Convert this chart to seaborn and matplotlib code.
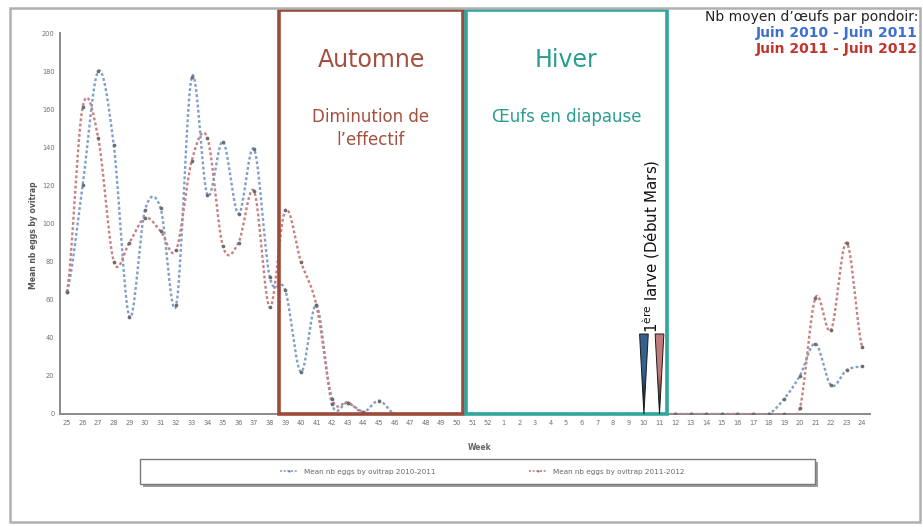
import numpy as np
import pandas as pd
import matplotlib
matplotlib.use("Agg")
import matplotlib.pyplot as plt
import seaborn as sns
from matplotlib.patches import Rectangle, Polygon
from matplotlib.lines import Line2D
from matplotlib.colors import LinearSegmentedColormap

# Weeks from June to June (week 25 of year N to week 24 of year N+1)
weeks = list(range(25, 53)) + list(range(1, 25))

# Mean number of eggs per ovitrap
eggs_2010_2011 = [64, 120, 180, 141, 51, 107, 108, 57, 177, 115, 143, 105, 139, 72,
                  65, 22, 57, 5, 6, 1, 7, 0, 0, 0, 0, 0, 0, 0,
                  0, 0, 0, 0, 0, 0, 0, 0, 0, 0, 0, 0, 0, 0, 0, 0, 0,
                  0, 8, 20, 37, 15, 23, 25]
eggs_2011_2012 = [64, 161, 145, 80, 90, 103, 96, 86, 133, 145, 88, 90, 117, 56,
                  107, 80, 57, 8, 6, 1, 0, 0, 0, 0, 0, 0, 0, 0,
                  0, 0, 0, 0, 0, 0, 0, 0, 0, 0, 0, 0, 0, 0, 0, 0, 0,
                  0, 0, 3, 61, 44, 90, 35]

series_labels = ["Mean nb eggs by ovitrap 2010-2011", "Mean nb eggs by ovitrap 2011-2012"]
series_colors = ["#7f9fc8", "#c98080"]
y_ticks = list(range(0, 201, 20))

# Seasons (in week-index units) and first larva observations
autumn_span = (13.6, 25.4)
winter_span = (25.6, 38.45)
first_larva_weeks = [10, 11]
larva_colors = ["#35608f", "#c47a7a"]
larva_height = 42


def smooth_curve(values, n=16):
    """Catmull-Rom path through the points, like a smoothed spreadsheet line."""
    y = np.asarray(values, float)
    p = np.concatenate([[y[0]], y, [y[-1]]])
    xs, ys = [], []
    t = np.linspace(0, 1, n, endpoint=False)
    for i in range(len(y) - 1):
        p0, p1, p2, p3 = p[i:i + 4]
        h = 0.5 * (2 * p1 + (-p0 + p2) * t + (2 * p0 - 5 * p1 + 4 * p2 - p3) * t ** 2
                   + (-p0 + 3 * p1 - 3 * p2 + p3) * t ** 3)
        xs.append(i + t)
        ys.append(h)
    xs.append([len(y) - 1])
    ys.append([y[-1]])
    return np.concatenate(xs), np.concatenate(ys)


sns.set_style("white")
plt.rcParams["font.family"] = ["DejaVu Sans"]

fig = plt.figure(figsize=(9.23, 5.27), dpi=100)
ax = fig.add_axes([60 / 923, 1 - 414 / 527, 810 / 923, 381 / 527])

idx = np.arange(len(weeks))
for vals, lab, col in zip([eggs_2010_2011, eggs_2011_2012], series_labels, series_colors):
    cx, cy = smooth_curve(vals)
    curve = pd.DataFrame({"x": cx, "y": cy})
    sns.lineplot(data=curve, x="x", y="y", ax=ax, color=col, linewidth=1.7,
                 linestyle=(0, (1.2, 1.0)), estimator=None, sort=False, zorder=3)
    pts = pd.DataFrame({"x": idx, "y": vals})
    sns.scatterplot(data=pts, x="x", y="y", ax=ax, color="#6d6d6d", s=7,
                    linewidth=0, zorder=4)

# Season boxes
ax.add_patch(Rectangle((autumn_span[0], 0), autumn_span[1] - autumn_span[0], 212,
                       fill=False, ec="#9c4a3a", lw=2.6, clip_on=False, zorder=5))
ax.add_patch(Rectangle((winter_span[0], 0), winter_span[1] - winter_span[0], 212,
                       fill=False, ec="#2fa79b", lw=2.6, clip_on=False, zorder=5))

ac = sum(autumn_span) / 2
wc = sum(winter_span) / 2
ax.text(ac, 186, "Automne", ha="center", va="center", fontsize=17, color="#a5503e")
ax.text(ac, 156, "Diminution de", ha="center", va="center", fontsize=12, color="#a5503e")
ax.text(ac, 144, "l\u2019effectif", ha="center", va="center", fontsize=12, color="#a5503e")
ax.text(wc, 186, "Hiver", ha="center", va="center", fontsize=17, color="#2a9d91")
ax.text(wc, 156, "\u0152ufs en diapause", ha="center", va="center", fontsize=12, color="#2a9d91")

# First larva markers (gradient spikes)
hw = 0.28
for wk, col in zip(first_larva_weeks, larva_colors):
    xi = weeks.index(wk)
    tri = Polygon([(xi - hw, larva_height), (xi + hw, larva_height), (xi, 0)],
                  closed=True, facecolor="none", edgecolor="#1a1a1a", lw=0.7, zorder=7)
    ax.add_patch(tri)
    cmap = LinearSegmentedColormap.from_list("spike", ["#000000", col, col])
    grad = np.linspace(0, 1, 64).reshape(-1, 1)
    im = ax.imshow(grad, extent=(xi - hw, xi + hw, 0, larva_height), origin="lower",
                   cmap=cmap, aspect="auto", zorder=6)
    im.set_clip_path(tri)

lx = (weeks.index(first_larva_weeks[0]) + weeks.index(first_larva_weeks[1])) / 2
ax.text(lx, 88, r"1$^{\mathrm{ère}}$ larve (Début Mars)", rotation=90, ha="center",
        va="center", fontsize=10.8, color="#111111")

ax.set_xlim(-0.45, 51.5)
ax.set_ylim(0, 200)
ax.set_xticks(idx)
ax.set_xticklabels([str(w) for w in weeks])
ax.set_yticks(y_ticks)
ax.set_yticklabels([str(v) for v in y_ticks])
ax.tick_params(axis="both", labelsize=4.8, labelcolor="#707070", color="#888888",
               direction="inout", length=4, width=0.8, pad=2)
ax.set_xlabel("")
ax.set_ylabel("")
for side in ["top", "right"]:
    ax.spines[side].set_visible(False)
for side in ["left", "bottom"]:
    ax.spines[side].set_color("#8a8a8a")
    ax.spines[side].set_linewidth(1.4)

fig.text(480 / 923, 1 - 447 / 527, "Week", ha="center", va="center", fontsize=5.5,
         fontweight="bold", color="#666666")
fig.text(33 / 923, 1 - 235 / 527, "Mean nb eggs by ovitrap", rotation=90, ha="center",
         va="center", fontsize=5.5, fontweight="bold", color="#555555")

# Legend box with drop shadow, entries centred inside
fig.add_artist(Rectangle((143 / 923, 1 - 487 / 527), 675 / 923, 25 / 527,
                         fc="#9a9a9a", ec="none", transform=fig.transFigure))
fig.add_artist(Rectangle((140 / 923, 1 - 484 / 527), 675 / 923, 25 / 527,
                         fc="white", ec="#7a7a7a", lw=1.0, transform=fig.transFigure))
handles = [Line2D([], [], color=c, lw=1.2, linestyle=(0, (1.2, 1.0)), marker="o",
                  markersize=1.5, markerfacecolor="#6d6d6d", markeredgewidth=0)
           for c in series_colors]
leg = fig.legend(handles, series_labels, loc="center", ncol=2,
                 bbox_to_anchor=(482 / 923, 1 - 471.5 / 527),
                 fontsize=5.2, frameon=False, handlelength=2.5, columnspacing=13)
for t in leg.get_texts():
    t.set_color("#666666")

# Top-right caption
fig.text(918 / 923, 1 - 17 / 527, "Nb moyen d\u2019\u0153ufs par pondoir:", ha="right",
         va="center", fontsize=10, color="#222222")
fig.text(918 / 923, 1 - 33 / 527, "Juin 2010 - Juin 2011", ha="right", va="center",
         fontsize=10, fontweight="bold", color="#3d6fd0")
fig.text(918 / 923, 1 - 49 / 527, "Juin 2011 - Juin 2012", ha="right", va="center",
         fontsize=10, fontweight="bold", color="#c0342c")

# Outer frame
fig.add_artist(Rectangle((10 / 923, 5 / 527), 910 / 923, 514 / 527, fill=False,
                         ec="#b0b0b0", lw=1.8, transform=fig.transFigure))

fig.savefig("out.png", dpi=100)
